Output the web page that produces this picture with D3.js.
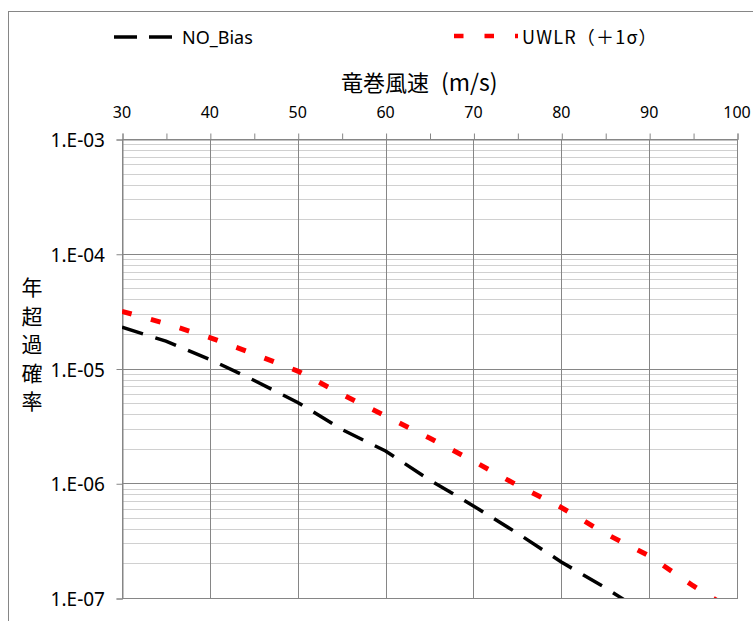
<!DOCTYPE html>
<html><head><meta charset="utf-8">
<script src="https://cdn.jsdelivr.net/npm/d3@7"></script>
<style>
body{margin:0;background:#fff;}
svg{display:block;}
text{font-family:"Noto Sans","Noto Sans CJK JP",sans-serif;fill:#000;}
text.jp{font-family:"Noto Sans CJK JP","Noto Sans",sans-serif;}
</style>
</head><body>
<svg id="c" width="753" height="621"></svg>
<script>
const speeds = [30,35,40,45,50,55,60,65,70,75,80,85,90,95,100];
const noBias = [2.29e-5,1.73e-5,1.20e-5,7.9e-6,5.06e-6,2.95e-6,1.91e-6,1.07e-6,6.35e-7,3.67e-7,2.06e-7,1.23e-7,7.0e-8];
const uwlr   = [3.15e-5,2.46e-5,1.86e-5,1.34e-5,9.5e-6,5.98e-6,3.85e-6,2.48e-6,1.56e-6,9.6e-7,6.15e-7,3.65e-7,2.33e-7,1.28e-7,7.4e-8];
const xTicks = [30,40,50,60,70,80,90,100];
const yTicks = [1e-3,1e-4,1e-5,1e-6,1e-7];
const yTickLabels = ["1.E-03","1.E-04","1.E-05","1.E-06","1.E-07"];
const seriesNames = ["NO_Bias","UWLR（＋1σ）"];
const xTitleJp = "竜巻風速";
const xTitleUnit = "(m/s)";
const yTitle = "年超過確率";

const svg = d3.select("#c");
const L = 122, R = 737, T = 139, B = 598;
const x = d3.scaleLinear().domain([30,100]).range([L,R]);
const y = d3.scaleLog().domain([1e-7,1e-3]).range([B,T]);

// outer chart border
svg.append("rect").attr("x",8.5).attr("y",11.5).attr("width",800).attr("height",700)
  .attr("fill","none").attr("stroke","#868686").attr("stroke-width",1);

// minor horizontal gridlines
const minors = [];
for (let e=-7;e<-3;e++) for (let m=2;m<=9;m++) minors.push(m*Math.pow(10,e));
svg.append("g").selectAll("line").data(minors).join("line")
  .attr("x1",L).attr("x2",R)
  .attr("y1",d=>Math.round(y(d))+0.5).attr("y2",d=>Math.round(y(d))+0.5)
  .attr("stroke","#d0d0d0").attr("stroke-width",1);
// major horizontal gridlines
svg.append("g").selectAll("line").data(yTicks).join("line")
  .attr("x1",L).attr("x2",R)
  .attr("y1",d=>Math.round(y(d))+0.5).attr("y2",d=>Math.round(y(d))+0.5)
  .attr("stroke","#868686").attr("stroke-width",1);
// vertical gridlines
svg.append("g").selectAll("line").data(xTicks).join("line")
  .attr("x1",d=>Math.round(x(d))+0.5).attr("x2",d=>Math.round(x(d))+0.5)
  .attr("y1",T).attr("y2",B)
  .attr("stroke","#868686").attr("stroke-width",1);
// plot border
svg.append("rect").attr("x",L+0.5).attr("y",T+0.5).attr("width",R-L).attr("height",B-T)
  .attr("fill","none").attr("stroke","#868686");

// top axis
const xAxis = svg.append("g").attr("transform",`translate(0.5,${T+0.5})`)
  .call(d3.axisTop(x).tickValues(d3.range(30,101,5)).tickSize(6).tickFormat(""));
xAxis.select(".domain").attr("stroke","#868686");
xAxis.selectAll(".tick line").attr("stroke","#868686");
svg.append("g").selectAll("text").data(xTicks).join("text")
  .attr("x",d=>x(d)).attr("y",118).attr("text-anchor","middle")
  .attr("font-size",16).text(d=>d);

// left axis
const yAxis = svg.append("g").attr("transform",`translate(${L+0.5},0.5)`)
  .call(d3.axisLeft(y).tickValues(yTicks).tickSize(6).tickFormat(""));
yAxis.select(".domain").attr("stroke","#868686");
yAxis.selectAll(".tick line").attr("stroke","#868686");
svg.append("g").selectAll("text").data(yTicks).join("text")
  .attr("x",105).attr("y",d=>y(d)+8).attr("text-anchor","end")
  .attr("font-size",19).text((d,i)=>yTickLabels[i]);

// titles
const xt = svg.append("text").attr("class","jp").attr("x",341).attr("y",91)
  .attr("font-size",22);
xt.append("tspan").text(xTitleJp);
xt.append("tspan").attr("dx",12).attr("font-size",23).text(xTitleUnit);
svg.append("g").selectAll("text").data(Array.from(yTitle)).join("text")
  .attr("class","jp")
  .attr("x",32).attr("y",(d,i)=>287+i*28.5+8).attr("text-anchor","middle")
  .attr("font-size",21).text(d=>d);

// clip
svg.append("clipPath").attr("id","clip").append("rect")
  .attr("x",L).attr("y",T).attr("width",R-L).attr("height",B-T);

const line = d3.line().x(d=>x(d[0])).y(d=>y(d[1]));
const g = svg.append("g").attr("clip-path","url(#clip)");
g.append("path").datum(noBias.map((v,i)=>[speeds[i],v]))
  .attr("d",line).attr("fill","none").attr("stroke","#000")
  .attr("stroke-width",3.5).attr("stroke-dasharray","22,13");
g.append("path").datum(uwlr.map((v,i)=>[speeds[i],v]))
  .attr("d",line).attr("fill","none").attr("stroke","#ff0000")
  .attr("stroke-width",5).attr("stroke-dasharray","10,20");

// legend
svg.append("line").attr("x1",114).attr("x2",172).attr("y1",37).attr("y2",37)
  .attr("stroke","#000").attr("stroke-width",3.5).attr("stroke-dasharray","23,12");
svg.append("text").attr("x",182).attr("y",44).attr("font-size",18).text(seriesNames[0]);
svg.append("line").attr("x1",454).attr("x2",518).attr("y1",36).attr("y2",36)
  .attr("stroke","#ff0000").attr("stroke-width",4.5).attr("stroke-dasharray","9.5,21");
svg.append("text").attr("class","jp").attr("x",522).attr("y",44).attr("font-size",18)
  .attr("letter-spacing",1.2).text(seriesNames[1]);
</script>
</body></html>
